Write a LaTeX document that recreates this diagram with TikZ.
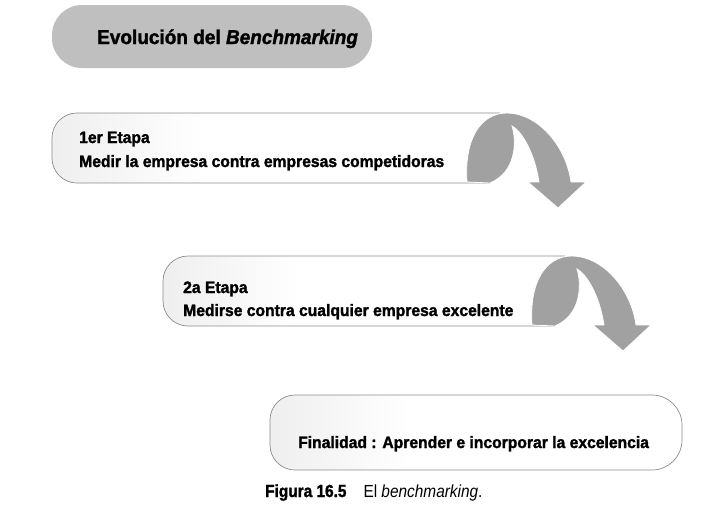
\documentclass[tikz,border=0pt]{standalone}
\usepackage{fontspec}
\setmainfont{Liberation Sans}
\newfontfamily\cond{Liberation Sans}[FakeStretch=0.95, BoldFeatures={FakeBold=1.6}, BoldItalicFeatures={FakeBold=1.6}]
\newfontfamily\capfont{Liberation Sans}[FakeStretch=0.88, BoldFeatures={FakeBold=1.6}]
\definecolor{titlegray}{gray}{0.75}
\definecolor{edgegray}{gray}{0.55}
\definecolor{arrowgray}{gray}{0.63}
\definecolor{fadegray}{gray}{0.84}
\pgfdeclarehorizontalshading{boxfade}{100bp}{color(0bp)=(fadegray); color(42bp)=(white); color(100bp)=(white)}
\tikzset{
  body/.style={font=\cond\fontsize{16.5}{18}\selectfont\bfseries, inner sep=0pt, anchor=base west},
  titletext/.style={font=\cond\fontsize{20}{22}\selectfont\bfseries, inner sep=0pt, anchor=base west},
  captext/.style={font=\capfont\fontsize{17.5}{19}\selectfont, inner sep=0pt, anchor=base west},
  stagebox/.style={shading=boxfade, draw=edgegray, line width=0.7pt},
  curlarrow/.pic={
    \path[fill=arrowgray, draw=white, line width=0.8pt]
      (467,182) .. controls (464,140) and (480,113) .. (507,113)
      .. controls (537,113) and (566,145) .. (571,182)
      -- (586,182) -- (558,208) -- (528,182) -- (539,182)
      .. controls (535,155) and (523,132) .. (512,126)
      .. controls (517,142) and (516,172) .. (490,183) -- cycle;
  }
}
\begin{document}
\begin{tikzpicture}[x=1pt,y=-1pt]
\useasboundingbox (0,0) rectangle (728,528);
% title
\fill[titlegray, rounded corners=30pt] (52,5) rectangle (372,68);
\node[titletext] (title) at (97,44) {Evolución del \textit{Benchmarking}};
% stage 1
\path[stagebox, rounded corners=25pt] (500,113) -- (52,113) -- (52,183) -- (490,183);
\pic at (0,0) {curlarrow};
\node[body] (s1a) at (79,143) {1er Etapa};
\node[body] (s1b) at (79,167) {Medir la empresa contra empresas competidoras};
% stage 2
\path[stagebox, rounded corners=25pt] (565,256) -- (163,256) -- (163,326) -- (555,326);
\pic at (65,143) {curlarrow};
\node[body] (s2a) at (183,293) {2a Etapa};
\node[body] (s2b) at (183,316) {Medirse contra cualquier empresa excelente};
% final
\path[stagebox] (476,395) [rounded corners=30pt] -- (682,395) -- (682,470) -- (476,470)
  [rounded corners=25pt] -- (270,470) -- (270,395) -- cycle;
\node[body] (fin) at (298,448) {Finalidad : Aprender e incorporar la excelencia};
% caption
\node[captext] (cap) at (265,497) {\bfseries Figura 16.5\hspace{17pt}\mdseries El \textit{benchmarking}.};
\end{tikzpicture}
\end{document}
